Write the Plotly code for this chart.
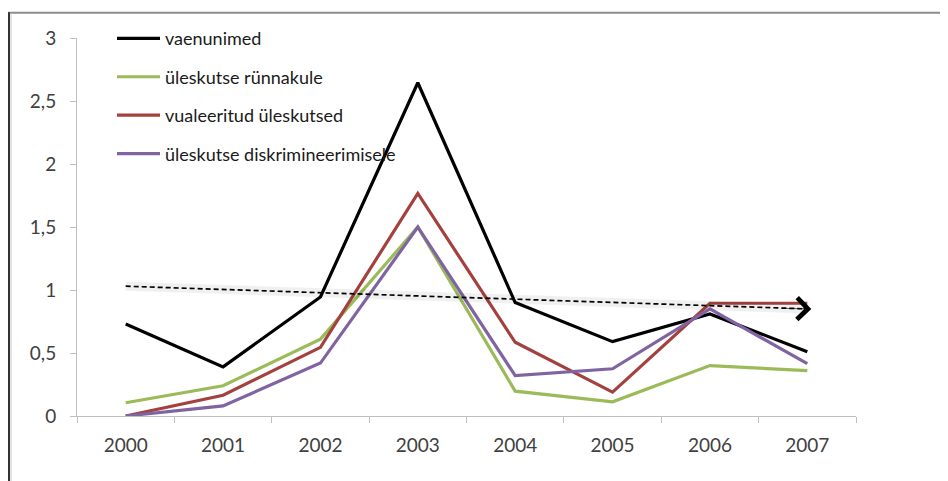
import plotly.graph_objects as go

years = ["2000", "2001", "2002", "2003", "2004", "2005", "2006", "2007"]

series_names = ["vaenunimed", "üleskutse rünnakule", "vualeeritud üleskutsed", "üleskutse diskrimineerimisele"]
vaenunimed = [0.73, 0.39, 0.945, 2.645, 0.90, 0.59, 0.81, 0.51]
runnakule = [0.105, 0.24, 0.61, 1.50, 0.197, 0.113, 0.40, 0.36]
vualeeritud = [0.0, 0.165, 0.545, 1.766, 0.585, 0.19, 0.895, 0.895]
diskrimineerimisele = [0.0, 0.08, 0.42, 1.50, 0.32, 0.375, 0.85, 0.415]
trend_x = ["2000", "2007"]
trend_y = [1.03, 0.85]

colors = ["#000000", "#9BBB59", "#A3413E", "#8064A2"]
values = [vaenunimed, runnakule, vualeeritud, diskrimineerimisele]

fig = go.Figure()

for name, vals, col in zip(series_names, values, colors):
    fig.add_trace(go.Scatter(x=years, y=vals, mode="lines", name=name,
                             legendgroup=name,
                             line=dict(color=col, width=3.2)))

# trend shadow
fig.add_trace(go.Scatter(x=trend_x, y=trend_y, mode="lines",
                         line=dict(color="rgba(0,0,0,0.06)", width=9),
                         showlegend=False, hoverinfo="skip"))

fig.add_trace(go.Scatter(x=trend_x, y=trend_y, mode="lines",
                         line=dict(color="#000000", width=1.7, dash="5px,3px"),
                         showlegend=False, hoverinfo="skip"))

# arrowhead at the end of the trend line (category axis -> use category index)
fig.add_annotation(x=years.index(trend_x[-1]), y=trend_y[-1], xref="x", yref="y",
                   ax=-30, ay=-0.6, text="", showarrow=True,
                   arrowhead=4, arrowsize=7, arrowwidth=0.6, arrowcolor="#000000",
                   xshift=4)

# page body margin offsets the figure by 8px in the window
OFF = 8
W, H = 948 - OFF, 481 - OFF
L, T = 77 - OFF, 35 - OFF
pw, ph = 779, 381
R, B = W - L - pw, H - T - ph

def px_x(p):
    return (p - OFF - L) / pw

def px_y(p):
    return (T + ph - (p - OFF)) / ph

fig.update_layout(
    width=W, height=H,
    margin=dict(l=L, r=R, t=T, b=B),
    paper_bgcolor="white", plot_bgcolor="white",
    font=dict(family="Lato, 'Open Sans', sans-serif", color="#404040"),
    showlegend=True,
    legend=dict(x=px_x(112), y=px_y(17), xanchor="left", yanchor="top",
                bgcolor="rgba(0,0,0,0)", tracegroupgap=12, itemwidth=43,
                font=dict(size=18, color="#1a1a1a"), itemclick=False),
    xaxis=dict(type="category", categoryorder="array", categoryarray=years,
               range=[-0.5, 7.5], tickson="boundaries",
               showgrid=False, zeroline=False, showline=True, linecolor="#BFBFBF",
               linewidth=1, ticks="outside", ticklen=6, tickcolor="#BFBFBF",
               tickfont=dict(size=19, color="#404040"), ticklabelstandoff=12),
    yaxis=dict(range=[0, 3], tickvals=[0, 0.5, 1, 1.5, 2, 2.5, 3],
               ticktext=["0", "0,5", "1", "1,5", "2", "2,5", "3"],
               showgrid=False, zeroline=False, showline=True, linecolor="#BFBFBF",
               linewidth=1, ticks="outside", ticklen=6, tickcolor="#BFBFBF",
               tickfont=dict(size=19, color="#404040"), ticklabelstandoff=10),
    shapes=[
        dict(type="line", xref="paper", yref="paper", x0=px_x(8), x1=px_x(948),
             y0=px_y(9.5), y1=px_y(9.5), line=dict(color="#8C8C8C", width=2)),
        dict(type="line", xref="paper", yref="paper", x0=px_x(9), x1=px_x(9),
             y0=px_y(9), y1=px_y(490), line=dict(color="#333333", width=2)),
        dict(type="line", xref="paper", yref="paper", x0=px_x(11), x1=px_x(11),
             y0=px_y(10), y1=px_y(490), line=dict(color="#C8C8C8", width=1)),
    ],
)

fig.write_html("out.html")
